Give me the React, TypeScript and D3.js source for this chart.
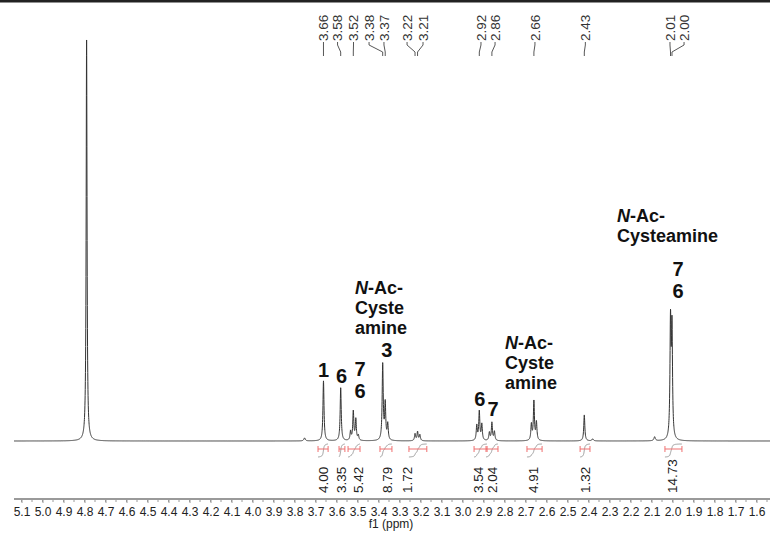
import React, { useRef, useEffect } from 'react';
import * as d3 from 'd3';

const width = 770;
const height = 533;

// resonance lines: position (ppm), height above baseline, half width
const linePpm = [4.79, 3.752, 3.662, 3.58, 3.533, 3.52, 3.508, 3.496, 3.38, 3.368, 3.356, 3.226, 3.214, 3.203,
  2.932, 2.92, 2.908, 2.872, 2.86, 2.848, 2.672, 2.66, 2.648, 2.42, 2.38, 2.085, 2.0095, 2.0025];
const lineHeight = [401, 3, 60, 53, 9, 29, 21, 5, 76, 36, 16, 7, 9, 6,
  15, 29, 16, 8, 18, 9, 16, 39, 18, 26, 2, 4, 115, 108];
const lineWidth = [0.0025, 0.004, 0.003, 0.003, 0.003, 0.003, 0.003, 0.003, 0.003, 0.003, 0.003, 0.003, 0.003, 0.003,
  0.003, 0.003, 0.003, 0.003, 0.003, 0.003, 0.003, 0.003, 0.003, 0.003, 0.004, 0.004, 0.003, 0.003];

// peak picking labels along the top
const peakLabels = ['3.66', '3.58', '3.52', '3.38', '3.37', '3.22', '3.21', '2.92', '2.86', '2.66', '2.43', '2.01', '2.00'];
const peakAt = [3.662, 3.58, 3.52, 3.38, 3.368, 3.226, 3.214, 2.92, 2.86, 2.66, 2.42, 2.0095, 2.0025];
const peakLabelAt = [3.662, 3.595, 3.519, 3.445, 3.374, 3.264, 3.188, 2.912, 2.845, 2.655, 2.415, 2.012, 1.945];

// integrals
const integralValues = ['4.00', '3.35', '5.42', '8.79', '1.72', '3.54', '2.04', '4.91', '1.32', '14.73'];
const integralFrom = [3.688, 3.588, 3.545, 3.393, 3.255, 2.945, 2.888, 2.693, 2.44, 2.036];
const integralTo = [3.64, 3.56, 3.488, 3.336, 3.17, 2.883, 2.831, 2.621, 2.393, 1.955];
const integralLabelAt = [3.662, 3.576, 3.495, 3.357, 3.262, 2.926, 2.86, 2.665, 2.417, 2.0];

// assignment annotations
const assignText = ['1', '6', '7', '6', '3', '6', '7', '7', '6'];
const assignAt = [3.662, 3.576, 3.488, 3.488, 3.36, 2.917, 2.855, 1.974, 1.974];
const assignBaseline = [377, 383, 376, 398, 357, 406, 416, 276, 298];

const groupLines = [['N', 'Cyste', 'amine'], ['N', 'Cyste', 'amine'], ['N', 'Cysteamine']];
const groupAt = [3.512, 2.798, 2.264];
const groupTop = [294, 349, 222];

const tickValues = d3.range(16, 52).map(v => v / 10);
const minorValues = d3.range(31, 103).map(v => v / 20);

const x = d3.scaleLinear().domain([5.1, 1.6]).range([21.5, 756.5]);
const y = d3.scaleLinear().domain([0, 401]).range([441, 40]);

const App = () => {
  const axisRef = useRef<SVGGElement>(null);

  useEffect(() => {
    const g = d3.select(axisRef.current);
    g.selectAll('*').remove();
    g.append('line')
      .attr('x1', 0).attr('x2', width)
      .attr('stroke', '#9a9a9a').attr('stroke-width', 2);
    g.selectAll('line.minor')
      .data(minorValues)
      .enter().append('line')
      .attr('class', 'minor')
      .attr('x1', d => x(d)).attr('x2', d => x(d))
      .attr('y1', 0).attr('y2', 3)
      .attr('stroke', '#9a9a9a');
    const ax = g.append('g')
      .call(d3.axisBottom(x).tickValues(tickValues).tickSize(4).tickSizeOuter(0).tickFormat(d3.format('.1f')));
    ax.select('.domain').remove();
    ax.selectAll('line').attr('stroke', '#9a9a9a');
    ax.selectAll('text')
      .attr('y', 8)
      .attr('fill', '#222')
      .style('font-family', 'Liberation Sans, Arial, sans-serif')
      .style('font-size', '12px');
  }, []);

  const grid = d3.range(5.18, 1.5, -0.0005);
  const spectrum = grid.map(p => [p, d3.sum(linePpm, (c, i) => lineHeight[i] / (1 + ((p - c) / lineWidth[i]) ** 2))]);
  const trace = d3.line<number[]>().x(d => x(d[0])).y(d => y(d[1]))(spectrum);

  // running integral over each region, drawn as the small grey S curve
  const integralCurve = (from: number, to: number) => {
    const pts = spectrum.filter(d => d[0] <= from && d[0] >= to);
    const total = d3.sum(pts, d => d[1]);
    let acc = 0;
    const cum = pts.map(d => { acc += d[1]; return [d[0], acc / total]; });
    return d3.line<number[]>().x(d => x(d[0])).y(d => 457 - d[1] * 13)(cum);
  };

  const labelFont = 'Liberation Sans, Arial, sans-serif';

  return (
    <svg width={width} height={height} style={{ position: 'absolute', left: 0, top: 0 }}>
      <defs>
        <clipPath id="plot">
          <rect x={14} y={0} width={width - 14} height={height} />
        </clipPath>
      </defs>
      <rect width={width} height={height} fill="#fff" />
      <rect x={0} y={0} width={width} height={2.5} fill="#222" />

      <g clipPath="url(#plot)">
        <path d={trace || ''} fill="none" stroke="#333" strokeWidth={1} />
        <g ref={axisRef} transform="translate(0,499)" />
        <text x={(x(5.1) + x(1.6)) / 2 + 2} y={528} textAnchor="middle" fontFamily={labelFont}
          fontSize={12} fill="#222">f1 (ppm)</text>
      </g>

      {/* peak picking */}
      {peakLabels.map((t, i) => {
        const lx = x(peakLabelAt[i]);
        const px = x(peakAt[i]);
        return (
          <g key={t}>
            <path d={`M${lx},42 L${lx},45 L${px},52 L${px},56`} fill="none" stroke="#444" strokeWidth={0.9} />
            <text transform={`translate(${lx},41) rotate(-90)`} dy="0.35em" fontFamily={labelFont}
              fontSize={13.5} fill="#333">{t}</text>
          </g>
        );
      })}

      {/* integrals */}
      {integralValues.map((v, i) => {
        const x0 = x(integralFrom[i]);
        const x1 = x(integralTo[i]);
        const lx = x(integralLabelAt[i]);
        return (
          <g key={i}>
            <path d={integralCurve(integralFrom[i], integralTo[i]) || ''} fill="none" stroke="#999" strokeWidth={1} />
            <path d={`M${x0},446 L${x0},452 M${x0},449 L${x1},449 M${x1},446 L${x1},452`} stroke="#ef7070"
              strokeWidth={1} fill="none" />
            <text transform={`translate(${lx},493) rotate(-90)`} dy="0.35em" fontFamily={labelFont}
              fontSize={13.5} fill="#222">{v}</text>
          </g>
        );
      })}

      {/* assignments */}
      {assignText.map((t, i) => (
        <text key={i} x={x(assignAt[i])} y={assignBaseline[i]} textAnchor="middle" fontFamily={labelFont}
          fontWeight="bold" fontSize={20} fill="#111">{t}</text>
      ))}
      {groupLines.map((lines, gi) => (
        <g key={gi}>
          {lines.map((l, li) => (
            <text key={li} x={x(groupAt[gi])} y={groupTop[gi] + li * 20} fontFamily={labelFont}
              fontWeight="bold" fontSize={18} fill="#111">
              {li === 0 ? (<><tspan fontStyle="italic">N</tspan>-Ac-</>) : l}
            </text>
          ))}
        </g>
      ))}
    </svg>
  );
};

export default App;
